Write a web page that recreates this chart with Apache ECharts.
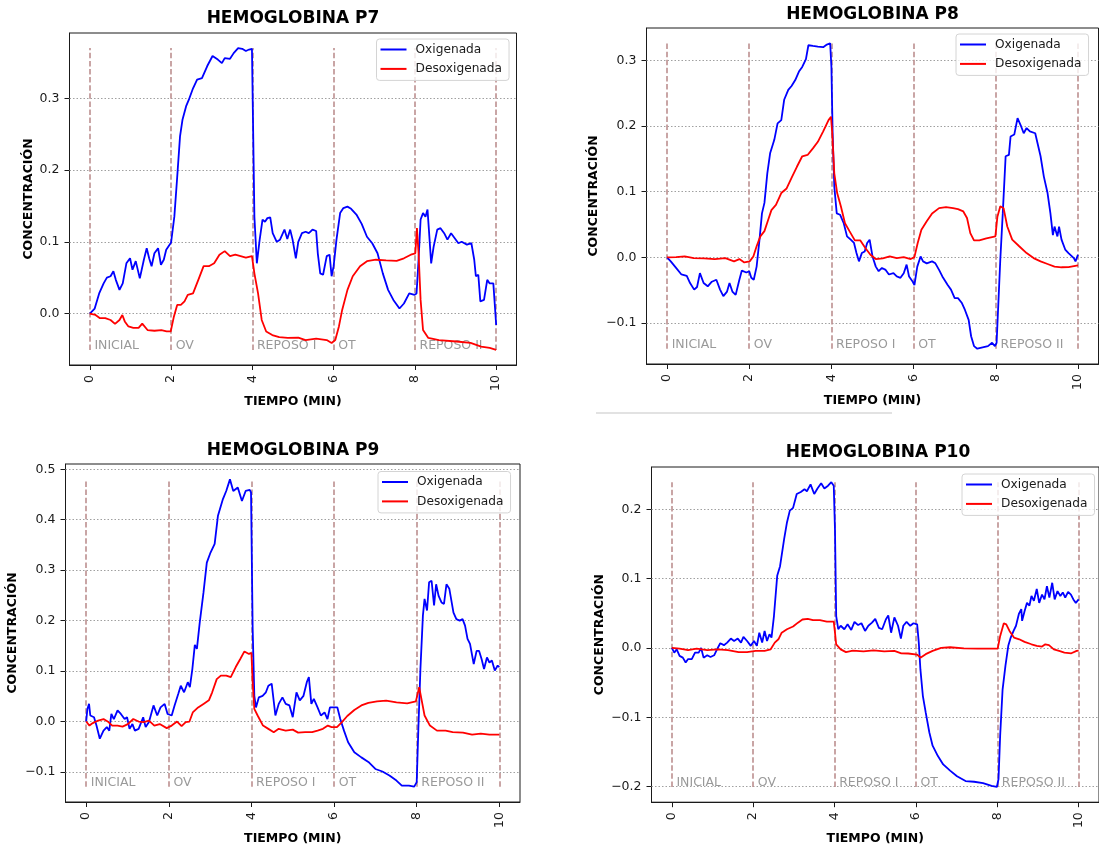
<!DOCTYPE html>
<html>
<head>
<meta charset="utf-8">
<title>Hemoglobina P7–P10</title>
<script src="https://cdn.jsdelivr.net/npm/echarts@6/dist/echarts.min.js"></script>
<style>
  html, body { margin: 0; padding: 0; background: #fff; }
  #chart { width: 1099px; height: 846px; }
</style>
</head>
<body>
<div id="chart"></div>
<script>
// ---- data ----------------------------------------------------------------
const phaseStarts = [0, 2, 4, 6, 8, 10];
const phaseNames = ['INICIAL', 'OV', 'REPOSO I', 'OT', 'REPOSO II'];
const xTicks = [0, 2, 4, 6, 8, 10];
const seriesNames = ['Oxigenada', 'Desoxigenada'];
const titles = ['HEMOGLOBINA P7', 'HEMOGLOBINA P8', 'HEMOGLOBINA P9', 'HEMOGLOBINA P10'];

const yTicksP7 = [0, 0.1, 0.2, 0.3];
const yTicksP8 = [-0.1, 0, 0.1, 0.2, 0.3];
const yTicksP9 = [-0.1, 0, 0.1, 0.2, 0.3, 0.4, 0.5];
const yTicksP10 = [-0.2, -0.1, 0, 0.1, 0.2];

// [tiempo (min), concentración]
const p7Oxi = [[0,0],[0.12,0.007],[0.23,0.028],[0.34,0.042],[0.42,0.05],[0.51,0.052],[0.58,0.059],[0.64,0.047],[0.73,0.033],[0.81,0.042],[0.9,0.07],[0.99,0.077],[1.05,0.061],[1.13,0.073],[1.23,0.049],[1.33,0.075],[1.4,0.091],[1.46,0.077],[1.52,0.066],[1.59,0.084],[1.68,0.091],[1.75,0.068],[1.82,0.075],[1.88,0.089],[2.0,0.099],[2.08,0.135],[2.15,0.19],[2.22,0.247],[2.28,0.27],[2.37,0.289],[2.45,0.3],[2.54,0.314],[2.64,0.326],[2.76,0.328],[2.89,0.345],[3.02,0.359],[3.15,0.354],[3.25,0.349],[3.32,0.356],[3.45,0.355],[3.54,0.363],[3.65,0.37],[3.75,0.369],[3.84,0.366],[3.92,0.368],[3.99,0.369],[4.02,0.252],[4.05,0.135],[4.11,0.07],[4.18,0.103],[4.25,0.131],[4.31,0.128],[4.37,0.133],[4.44,0.134],[4.5,0.112],[4.6,0.1],[4.68,0.103],[4.79,0.117],[4.86,0.104],[4.93,0.117],[4.99,0.103],[5.07,0.077],[5.13,0.1],[5.22,0.112],[5.31,0.114],[5.39,0.112],[5.48,0.117],[5.57,0.115],[5.61,0.084],[5.67,0.056],[5.74,0.054],[5.83,0.08],[5.9,0.082],[5.95,0.052],[6.0,0.066],[6.07,0.103],[6.16,0.14],[6.24,0.147],[6.34,0.149],[6.43,0.146],[6.56,0.138],[6.69,0.125],[6.82,0.107],[6.95,0.098],[7.08,0.084],[7.21,0.056],[7.34,0.033],[7.47,0.019],[7.62,0.007],[7.73,0.014],[7.86,0.028],[7.99,0.026],[8.04,0.028],[8.09,0.075],[8.14,0.131],[8.2,0.14],[8.26,0.135],[8.31,0.145],[8.35,0.112],[8.4,0.07],[8.46,0.093],[8.55,0.117],[8.63,0.119],[8.72,0.112],[8.8,0.103],[8.89,0.112],[8.98,0.105],[9.07,0.098],[9.15,0.1],[9.28,0.096],[9.39,0.098],[9.46,0.075],[9.5,0.052],[9.56,0.054],[9.61,0.017],[9.7,0.019],[9.78,0.047],[9.84,0.042],[9.93,0.042],[10,-0.016]];
const p7Desoxi = [[0,0],[0.14,-0.002],[0.25,-0.0065],[0.38,-0.0065],[0.51,-0.009],[0.62,-0.0144],[0.73,-0.009],[0.8,-0.002],[0.86,-0.011],[0.95,-0.018],[1.07,-0.02],[1.2,-0.02],[1.29,-0.014],[1.42,-0.023],[1.59,-0.024],[1.76,-0.023],[1.89,-0.025],[1.99,-0.025],[2.07,-0.004],[2.15,0.012],[2.24,0.012],[2.33,0.017],[2.41,0.026],[2.54,0.028],[2.67,0.047],[2.8,0.066],[2.93,0.066],[3.06,0.07],[3.19,0.082],[3.32,0.087],[3.45,0.08],[3.58,0.082],[3.71,0.08],[3.84,0.078],[3.99,0.08],[4.05,0.056],[4.14,0.028],[4.23,-0.009],[4.34,-0.025],[4.49,-0.03],[4.66,-0.033],[4.87,-0.034],[5.13,-0.0335],[5.31,-0.037],[5.57,-0.035],[5.83,-0.037],[5.95,-0.041],[6.04,-0.037],[6.13,-0.018],[6.21,0.005],[6.34,0.033],[6.47,0.052],[6.65,0.066],[6.82,0.073],[7.04,0.075],[7.29,0.074],[7.55,0.0735],[7.73,0.077],[7.9,0.082],[8.01,0.084],[8.05,0.119],[8.09,0.084],[8.14,0.019],[8.2,-0.023],[8.33,-0.034],[8.59,-0.037],[9.02,-0.039],[9.37,-0.041],[9.63,-0.046],[9.84,-0.048],[10,-0.0507]];

const p8Oxi = [[0,0],[0.09,-0.006],[0.22,-0.016],[0.35,-0.026],[0.48,-0.028],[0.56,-0.039],[0.66,-0.049],[0.73,-0.045],[0.8,-0.024],[0.89,-0.039],[0.99,-0.044],[1.09,-0.037],[1.2,-0.034],[1.29,-0.049],[1.37,-0.059],[1.46,-0.052],[1.52,-0.039],[1.59,-0.052],[1.67,-0.057],[1.76,-0.034],[1.82,-0.02],[1.93,-0.023],[2.0,-0.021],[2.05,-0.031],[2.11,-0.034],[2.18,-0.014],[2.25,0.027],[2.31,0.067],[2.37,0.083],[2.44,0.128],[2.51,0.159],[2.61,0.179],[2.69,0.204],[2.78,0.209],[2.85,0.24],[2.95,0.255],[3.03,0.261],[3.12,0.27],[3.21,0.283],[3.29,0.29],[3.38,0.302],[3.44,0.323],[3.55,0.322],[3.67,0.321],[3.8,0.32],[3.89,0.324],[3.97,0.326],[4.0,0.29],[4.03,0.189],[4.07,0.108],[4.13,0.067],[4.21,0.065],[4.3,0.052],[4.38,0.032],[4.47,0.027],[4.55,0.022],[4.61,0.0066],[4.67,-0.006],[4.74,0.0066],[4.81,0.009],[4.87,0.022],[4.93,0.027],[5.0,0.0015],[5.08,-0.014],[5.15,-0.021],[5.23,-0.016],[5.32,-0.019],[5.4,-0.026],[5.51,-0.024],[5.59,-0.029],[5.68,-0.031],[5.76,-0.024],[5.83,-0.011],[5.89,-0.029],[5.98,-0.037],[6.02,-0.042],[6.09,-0.014],[6.17,0.0015],[6.23,-0.006],[6.32,-0.009],[6.45,-0.006],[6.53,-0.009],[6.62,-0.019],[6.7,-0.029],[6.83,-0.042],[6.91,-0.049],[7.0,-0.062],[7.08,-0.062],[7.17,-0.069],[7.25,-0.08],[7.34,-0.095],[7.4,-0.12],[7.47,-0.135],[7.55,-0.139],[7.68,-0.137],[7.81,-0.135],[7.91,-0.13],[7.98,-0.135],[8.02,-0.13],[8.11,-0.0035],[8.17,0.067],[8.24,0.154],[8.32,0.156],[8.36,0.184],[8.45,0.187],[8.53,0.212],[8.62,0.199],[8.68,0.189],[8.75,0.197],[8.83,0.192],[8.96,0.189],[9.09,0.154],[9.17,0.123],[9.26,0.098],[9.33,0.067],[9.39,0.034],[9.43,0.047],[9.5,0.032],[9.54,0.047],[9.6,0.027],[9.69,0.012],[9.77,0.0066],[9.9,-0.001],[9.94,-0.006],[10,0.004]];
const p8Desoxi = [[0,0],[0.22,0.0005],[0.43,0.0015],[0.65,-0.001],[0.9,-0.0015],[1.16,-0.0025],[1.42,-0.001],[1.63,-0.006],[1.76,-0.0025],[1.88,-0.0076],[2.01,-0.006],[2.1,0.0015],[2.18,0.017],[2.27,0.032],[2.37,0.04],[2.46,0.057],[2.54,0.072],[2.65,0.08],[2.78,0.098],[2.91,0.105],[3.03,0.121],[3.16,0.138],[3.29,0.154],[3.42,0.156],[3.55,0.166],[3.67,0.176],[3.8,0.192],[3.93,0.209],[3.99,0.214],[4.02,0.189],[4.07,0.128],[4.14,0.098],[4.23,0.078],[4.33,0.052],[4.44,0.04],[4.57,0.026],[4.7,0.026],[4.83,0.014],[4.95,0.004],[5.08,-0.0025],[5.25,-0.0015],[5.42,0.0015],[5.59,-0.001],[5.76,0.0005],[5.93,-0.0025],[6.02,0.0005],[6.1,0.022],[6.19,0.042],[6.32,0.055],[6.45,0.067],[6.62,0.075],[6.79,0.0765],[6.96,0.075],[7.08,0.0735],[7.21,0.07],[7.3,0.06],[7.38,0.037],[7.47,0.026],[7.6,0.026],[7.77,0.029],[7.91,0.031],[7.99,0.032],[8.04,0.062],[8.11,0.078],[8.19,0.075],[8.28,0.047],[8.4,0.027],[8.57,0.017],[8.75,0.0066],[8.92,-0.001],[9.09,-0.006],[9.26,-0.01],[9.43,-0.014],[9.6,-0.015],[9.77,-0.0147],[10,-0.012]];

const p9Oxi = [[0,0],[0.03,0.025],[0.07,0.035],[0.1,0.012],[0.19,0.0086],[0.25,-0.008],[0.33,-0.034],[0.42,-0.018],[0.5,-0.011],[0.56,-0.018],[0.61,0.015],[0.67,0.005],[0.76,0.022],[0.84,0.015],[0.93,0.005],[0.99,0.0086],[1.05,-0.0145],[1.12,-0.005],[1.18,-0.018],[1.27,-0.0145],[1.38,0.0086],[1.44,-0.011],[1.52,-0.001],[1.63,0.032],[1.72,0.012],[1.8,0.028],[1.9,0.035],[1.97,0.015],[2.07,0.012],[2.14,0.032],[2.23,0.055],[2.29,0.071],[2.37,0.058],[2.46,0.078],[2.51,0.068],[2.57,0.104],[2.63,0.152],[2.68,0.144],[2.75,0.197],[2.84,0.256],[2.92,0.315],[3.01,0.335],[3.11,0.352],[3.19,0.408],[3.31,0.441],[3.39,0.457],[3.48,0.48],[3.56,0.457],[3.67,0.464],[3.77,0.437],[3.86,0.457],[3.96,0.459],[3.99,0.454],[4.03,0.183],[4.07,0.051],[4.11,0.028],[4.18,0.048],[4.27,0.051],[4.35,0.058],[4.41,0.071],[4.49,0.075],[4.58,0.012],[4.66,0.035],[4.75,0.048],[4.83,0.035],[4.92,0.032],[5.0,0.0086],[5.09,0.058],[5.17,0.042],[5.26,0.051],[5.34,0.078],[5.39,0.088],[5.45,0.035],[5.51,0.045],[5.6,0.028],[5.68,0.012],[5.77,0.018],[5.84,0.005],[5.9,0.028],[5.98,0.028],[6.08,0.028],[6.15,0.005],[6.24,-0.018],[6.34,-0.041],[6.49,-0.061],[6.66,-0.071],[6.83,-0.08],[7.0,-0.094],[7.17,-0.099],[7.34,-0.107],[7.51,-0.117],[7.64,-0.127],[7.81,-0.127],[7.94,-0.129],[8.0,-0.12],[8.04,-0.0145],[8.09,0.104],[8.15,0.21],[8.19,0.243],[8.25,0.22],[8.3,0.276],[8.36,0.279],[8.42,0.23],[8.47,0.272],[8.53,0.249],[8.6,0.236],[8.66,0.233],[8.72,0.272],[8.79,0.263],[8.83,0.263],[8.89,0.216],[8.96,0.203],[9.04,0.2],[9.11,0.203],[9.17,0.19],[9.23,0.164],[9.29,0.154],[9.38,0.114],[9.45,0.14],[9.51,0.14],[9.57,0.124],[9.63,0.104],[9.7,0.127],[9.76,0.117],[9.82,0.121],[9.89,0.101],[9.96,0.111],[10,0.108]];
const p9Desoxi = [[0,0],[0.08,-0.008],[0.16,-0.003],[0.29,0.002],[0.42,0.005],[0.54,-0.001],[0.63,-0.008],[0.76,-0.008],[0.88,-0.01],[1.01,-0.005],[1.14,0.005],[1.27,0],[1.39,-0.001],[1.52,0.002],[1.65,-0.008],[1.78,-0.005],[1.95,-0.013],[2.07,-0.008],[2.2,0],[2.31,-0.009],[2.41,-0.001],[2.5,0],[2.58,0.018],[2.71,0.028],[2.84,0.035],[2.97,0.042],[3.05,0.058],[3.16,0.084],[3.26,0.091],[3.39,0.091],[3.5,0.088],[3.62,0.108],[3.73,0.124],[3.83,0.139],[3.94,0.134],[4.0,0.136],[4.03,0.078],[4.07,0.025],[4.15,0.012],[4.28,-0.008],[4.41,-0.0145],[4.54,-0.021],[4.66,-0.0145],[4.83,-0.018],[5.0,-0.016],[5.13,-0.022],[5.3,-0.021],[5.47,-0.021],[5.6,-0.018],[5.73,-0.0145],[5.85,-0.008],[5.94,-0.011],[6.07,-0.011],[6.19,-0.001],[6.32,0.011],[6.49,0.023],[6.66,0.032],[6.83,0.037],[7.04,0.04],[7.26,0.0415],[7.51,0.038],[7.77,0.036],[7.98,0.04],[8.06,0.068],[8.13,0.038],[8.19,0.012],[8.32,-0.008],[8.49,-0.018],[8.7,-0.018],[8.87,-0.021],[9.12,-0.022],[9.34,-0.026],[9.55,-0.024],[9.76,-0.026],[10,-0.026]];

const p10Oxi = [[0,0],[0.06,-0.0067],[0.12,-0.002],[0.19,-0.0115],[0.27,-0.014],[0.34,-0.021],[0.4,-0.016],[0.49,-0.016],[0.57,-0.0067],[0.66,-0.0067],[0.72,0],[0.78,-0.014],[0.87,-0.0106],[0.95,-0.013],[1.04,-0.0106],[1.11,-0.002],[1.19,0.0067],[1.28,0.004],[1.36,0.0077],[1.45,0.0135],[1.53,0.01],[1.62,0.0135],[1.7,0.0077],[1.76,0.016],[1.85,0.01],[1.94,0.003],[2.02,0.01],[2.09,0.003],[2.15,0.022],[2.22,0.0077],[2.28,0.0245],[2.34,0.01],[2.4,0.0197],[2.45,0.015],[2.51,0.046],[2.59,0.104],[2.66,0.118],[2.76,0.157],[2.83,0.181],[2.9,0.198],[2.98,0.202],[3.07,0.222],[3.17,0.225],[3.26,0.229],[3.32,0.226],[3.41,0.236],[3.5,0.222],[3.58,0.23],[3.67,0.2375],[3.75,0.23],[3.84,0.234],[3.92,0.239],[3.98,0.234],[4.01,0.171],[4.04,0.046],[4.09,0.027],[4.15,0.032],[4.24,0.027],[4.32,0.034],[4.41,0.026],[4.49,0.0375],[4.58,0.033],[4.66,0.0356],[4.75,0.0245],[4.83,0.032],[4.92,0.0365],[5.0,0.042],[5.09,0.029],[5.17,0.027],[5.26,0.041],[5.32,0.047],[5.39,0.022],[5.47,0.044],[5.56,0.032],[5.63,0.0135],[5.69,0.032],[5.77,0.0375],[5.86,0.032],[5.94,0.0356],[6.03,0.034],[6.07,0.0077],[6.11,-0.031],[6.17,-0.069],[6.24,-0.093],[6.33,-0.122],[6.41,-0.141],[6.54,-0.156],[6.67,-0.168],[6.84,-0.177],[7.01,-0.185],[7.22,-0.192],[7.43,-0.193],[7.65,-0.195],[7.86,-0.199],[7.99,-0.2005],[8.03,-0.189],[8.07,-0.127],[8.13,-0.06],[8.2,-0.026],[8.27,0.003],[8.33,0.015],[8.4,0.0245],[8.46,0.032],[8.53,0.049],[8.59,0.056],[8.61,0.039],[8.67,0.053],[8.73,0.065],[8.79,0.061],[8.84,0.075],[8.9,0.068],[8.97,0.085],[9.03,0.065],[9.1,0.077],[9.16,0.07],[9.22,0.089],[9.28,0.0726],[9.35,0.094],[9.41,0.07],[9.48,0.082],[9.55,0.075],[9.61,0.08],[9.67,0.0726],[9.74,0.081],[9.81,0.077],[9.87,0.07],[9.93,0.065],[10,0.07]];
const p10Desoxi = [[0,0],[0.19,-0.001],[0.4,-0.003],[0.61,-0.001],[0.87,-0.003],[1.13,-0.002],[1.38,-0.003],[1.64,-0.006],[1.85,-0.006],[2.06,-0.0043],[2.28,-0.0043],[2.43,-0.002],[2.53,0.0077],[2.62,0.0125],[2.7,0.022],[2.83,0.027],[2.98,0.031],[3.1,0.0365],[3.21,0.041],[3.34,0.042],[3.47,0.04],[3.64,0.04],[3.81,0.038],[3.98,0.038],[4.01,0.022],[4.04,0.005],[4.15,-0.002],[4.28,-0.006],[4.45,-0.004],[4.71,-0.005],[4.96,-0.0034],[5.22,-0.005],[5.47,-0.0043],[5.64,-0.0077],[5.81,-0.008],[6.03,-0.0096],[6.11,-0.014],[6.24,-0.009],[6.41,-0.0043],[6.62,0],[6.84,0.001],[7.18,-0.0005],[7.52,-0.001],[7.86,-0.001],[8.01,-0.001],[8.07,0.017],[8.16,0.0356],[8.22,0.034],[8.3,0.0245],[8.41,0.015],[8.54,0.0125],[8.67,0.0087],[8.84,0.0053],[8.97,0.003],[9.1,0.002],[9.18,0.0053],[9.27,0.004],[9.39,-0.002],[9.52,-0.0043],[9.65,-0.0067],[9.82,-0.0077],[9.95,-0.0043],[10,-0.004]];

// ---- layout & style -------------------------------------------------------
const FONT = 'DejaVu Sans';
const OXI_COLOR = '#0000ff';
const DESOXI_COLOR = '#ff0000';
const PHASE_COLOR = '#bc8f8f';
const GRID_COLOR = '#a0a0a0';

const panels = [
  { title: titles[0], oxi: p7Oxi, desoxi: p7Desoxi, yTicks: yTicksP7,
    grid: { left: 69.5, top: 33, width: 447, height: 332 },
    titlePos: [293, 10], legendPos: [376.5, 39], yNameGap: 34 },
  { title: titles[1], oxi: p8Oxi, desoxi: p8Desoxi, yTicks: yTicksP8,
    grid: { left: 646.5, top: 28, width: 452, height: 336 },
    titlePos: [872.5, 6], legendPos: [956, 34], yNameGap: 46 },
  { title: titles[2], oxi: p9Oxi, desoxi: p9Desoxi, yTicks: yTicksP9,
    grid: { left: 65.5, top: 464, width: 454.5, height: 338 },
    titlePos: [293, 442], legendPos: [378, 471.5], yNameGap: 46 },
  { title: titles[3], oxi: p10Oxi, desoxi: p10Desoxi, yTicks: yTicksP10,
    grid: { left: 651.5, top: 467, width: 453, height: 336 },
    titlePos: [878, 444], legendPos: [962, 474], yNameGap: 45 }
];

const fmtY = v => {
  const s = Math.abs(v).toFixed(1);
  return v < -1e-9 ? '\u2212' + s : s;
};

const option = {
  animation: false,
  backgroundColor: '#ffffff',
  textStyle: { fontFamily: FONT },
  title: [], grid: [], xAxis: [], yAxis: [], legend: [], series: [],
  graphic: [{
    type: 'rect', silent: true,
    shape: { x: 596, y: 412, width: 296, height: 2 },
    style: { fill: '#e2e2e2' }
  }]
};

panels.forEach((p, i) => {
  const values = p.oxi.concat(p.desoxi).map(d => d[1]);
  const dMin = Math.min(...values);
  const dMax = Math.max(...values);
  const pad = 0.05 * (dMax - dMin);

  option.title.push({
    text: p.title, left: p.titlePos[0], top: p.titlePos[1], textAlign: 'center', padding: 0,
    textStyle: { fontFamily: FONT, fontSize: 17, fontWeight: 'bold', color: '#000' }
  });

  option.grid.push(Object.assign({
    show: true, borderColor: '#1a1a1a', borderWidth: 1, backgroundColor: 'transparent'
  }, p.grid));

  option.xAxis.push({
    type: 'value', gridIndex: i, min: -0.5, max: 10.5,
    name: 'TIEMPO (MIN)', nameLocation: 'middle', nameGap: 28,
    nameTextStyle: { fontFamily: FONT, fontSize: 12.5, fontWeight: 'bold', color: '#000' },
    axisLine: { show: true, onZero: false, lineStyle: { color: '#1a1a1a', width: 1 } },
    axisTick: { show: true, customValues: xTicks, length: 5, lineStyle: { color: '#1a1a1a', width: 1 } },
    axisLabel: { customValues: xTicks, rotate: 90, margin: 10, fontFamily: FONT, fontSize: 12.5, color: '#1a1a1a',
                 formatter: v => String(v) },
    splitLine: { show: false }
  });

  option.yAxis.push({
    type: 'value', gridIndex: i, min: dMin - pad, max: dMax + pad,
    name: 'CONCENTRACIÓN', nameLocation: 'middle', nameRotate: 90, nameGap: p.yNameGap,
    nameTextStyle: { fontFamily: FONT, fontSize: 12.5, fontWeight: 'bold', color: '#000' },
    axisLine: { show: true, onZero: false, lineStyle: { color: '#1a1a1a', width: 1 } },
    axisTick: { show: true, customValues: p.yTicks, length: 5, lineStyle: { color: '#1a1a1a', width: 1 } },
    axisLabel: { customValues: p.yTicks, margin: 10, fontFamily: FONT, fontSize: 12.5, color: '#1a1a1a',
                 formatter: fmtY },
    splitLine: { show: false }
  });

  option.legend.push({
    data: seriesNames, orient: 'vertical', left: p.legendPos[0], top: p.legendPos[1],
    icon: 'rect', itemWidth: 26, itemHeight: 2, itemGap: 4.4,
    padding: [3, 7, 4, 4], selectedMode: false,
    backgroundColor: 'rgba(255,255,255,0.8)', borderColor: '#d4d4d4', borderWidth: 1, borderRadius: 3,
    textStyle: { fontFamily: FONT, fontSize: 12.2, color: '#1a1a1a', lineHeight: 15, padding: [0, 0, 0, 4] }
  });

  // phase labels, dashed phase boundaries and dotted horizontal grid
  option.series.push({
    type: 'scatter', name: 'fases-' + i, xAxisIndex: i, yAxisIndex: i,
    symbolSize: 1, itemStyle: { color: 'rgba(0,0,0,0)' }, silent: true, z: 2,
    data: phaseNames.map((name, k) => ({ value: [phaseStarts[k] + 0.1, dMin], name })),
    label: {
      show: true, position: 'right', distance: 0, offset: [0, -4],
      formatter: d => d.name, fontFamily: FONT, fontSize: 12.5, color: '#7f7f7f'
    },
    markLine: {
      silent: true, symbol: 'none', z: 1, animation: false,
      label: { show: false },
      data: p.yTicks.map(v => ({
        yAxis: v, lineStyle: { color: GRID_COLOR, width: 1, type: [1.5, 2] }
      })).concat(phaseStarts.map(t => [
        { coord: [t, dMin], lineStyle: { color: PHASE_COLOR, width: 1.6, type: [5.5, 2.6] } },
        { coord: [t, dMax] }
      ]))
    }
  });

  option.series.push({
    type: 'line', name: seriesNames[0], xAxisIndex: i, yAxisIndex: i, data: p.oxi,
    showSymbol: false, symbol: 'none', z: 3, color: OXI_COLOR,
    lineStyle: { color: OXI_COLOR, width: 1.8 }
  });
  option.series.push({
    type: 'line', name: seriesNames[1], xAxisIndex: i, yAxisIndex: i, data: p.desoxi,
    showSymbol: false, symbol: 'none', z: 3, color: DESOXI_COLOR,
    lineStyle: { color: DESOXI_COLOR, width: 1.8 }
  });
});

const chart = echarts.init(document.getElementById('chart'), null, { renderer: 'canvas' });
chart.setOption(option);
</script>
</body>
</html>
